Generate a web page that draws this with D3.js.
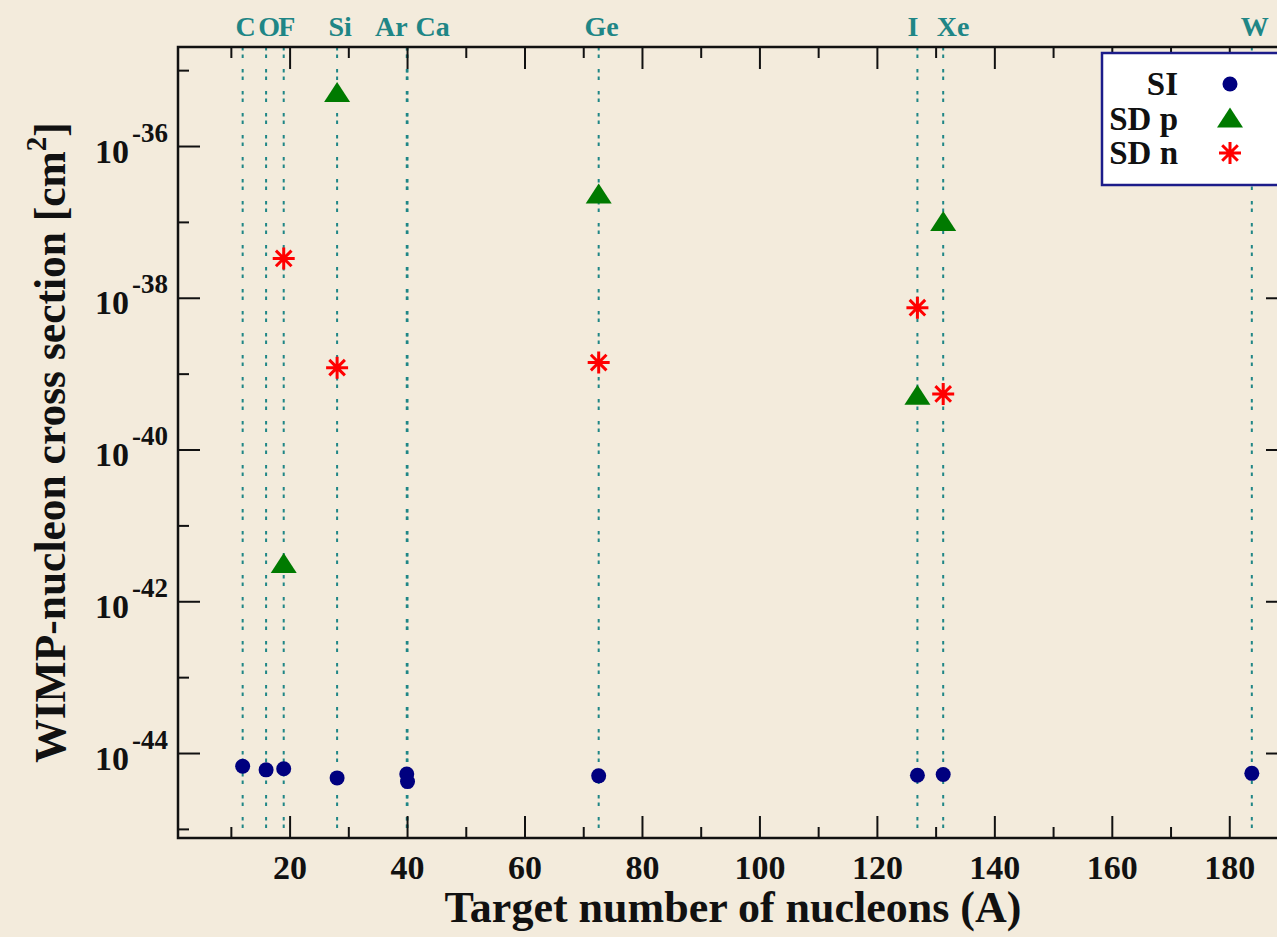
<!DOCTYPE html>
<html>
<head>
<meta charset="utf-8">
<script src="https://cdn.jsdelivr.net/npm/d3@7"></script>
<style>
  html, body { margin: 0; padding: 0; background: #f3ebdc; }
  svg { display: block; }
  text { font-family: "Liberation Serif", "Times New Roman", serif; font-weight: bold; fill: #111; }
</style>
</head>
<body>
<div id="chart"></div>
<script>
// target nuclei and their mass numbers
const elementNames = ["C", "O", "F", "Si", "Ar", "Ca", "Ge", "I", "Xe", "W"];
const elementMass = [12.01, 16.00, 19.00, 28.09, 39.95, 40.08, 72.63, 126.90, 131.29, 183.84];

// spin independent cross sections, one per element above
const siCross = [6.7e-45, 6.0e-45, 6.2e-45, 4.7e-45, 5.3e-45, 4.2e-45, 5.0e-45, 5.1e-45, 5.2e-45, 5.4e-45];

// spin dependent cross sections (proton / neutron)
const sdTargets = ["F", "Si", "Ge", "I", "Xe"];
const sdpCross = [3.1e-42, 5.0e-36, 2.3e-37, 5.1e-40, 1.0e-37];
const sdnCross = [3.3e-38, 1.2e-39, 1.4e-39, 7.4e-39, 5.4e-40];

// ticks
const xMajorTicks = [20, 40, 60, 80, 100, 120, 140, 160, 180];
const xMinorTicks = [10, 30, 50, 70, 90, 110, 130, 150, 170];
const yMajorTicks = [1e-44, 1e-42, 1e-40, 1e-38, 1e-36];
const yMinorTicks = [1e-45, 1e-43, 1e-41, 1e-39, 1e-37, 1e-35];

const legendLabels = ["SI", "SD p", "SD n"];

/* canvas */
const width = 1277, height = 937;
const plotLeft = 178, plotRight = 1288, plotTop = 47, plotBottom = 838;

const svg = d3.select("#chart").append("svg")
  .attr("width", width)
  .attr("height", height);

svg.append("rect")
  .attr("width", width).attr("height", height)
  .attr("fill", "#f3ebdc");

const x = d3.scaleLinear().domain([1, 190]).range([plotLeft, plotRight]);
const y = d3.scaleLog().domain([Math.pow(10, -45.12), Math.pow(10, -34.695)]).range([plotBottom, plotTop]);

const teal = "#1f8686";
const majorLen = 22, minorLen = 11;

/* element guide lines */
const labelPlace = {
  Ar: { anchor: "end", dx: 1 },
  Ca: { anchor: "start", dx: 8 },
  I: { anchor: "end", dx: 1 },
  Xe: { anchor: "middle", dx: 10 }
};

svg.append("g").selectAll("line")
  .data(elementMass)
  .join("line")
    .attr("x1", d => x(d)).attr("x2", d => x(d))
    .attr("y1", plotTop).attr("y2", plotBottom)
    .attr("stroke", teal)
    .attr("stroke-width", 2)
    .attr("stroke-dasharray", "3.5,4,3.5,11");

svg.append("g").selectAll("text")
  .data(elementNames)
  .join("text")
    .attr("x", (d, i) => x(elementMass[i]) + (labelPlace[d] ? labelPlace[d].dx : 3))
    .attr("y", 36)
    .attr("text-anchor", d => labelPlace[d] ? labelPlace[d].anchor : "middle")
    .style("font-size", "28px")
    .style("fill", teal)
    .text(d => d);

/* axes: ticks point inwards on all four sides */
function styleAxis(g) {
  g.select(".domain").remove();
  g.selectAll(".tick line").attr("stroke", "#111").attr("stroke-width", 2);
}

svg.append("g")
  .attr("transform", "translate(0," + plotBottom + ")")
  .call(d3.axisBottom(x).tickValues(xMajorTicks).tickSizeInner(-majorLen).tickSizeOuter(0).tickPadding(17))
  .call(styleAxis)
  .call(g => g.selectAll("text").style("font-size", "34px").attr("fill", "#111")
    .style("font-family", "'Liberation Serif', serif").style("font-weight", "bold"));

svg.append("g")
  .attr("transform", "translate(0," + plotBottom + ")")
  .call(d3.axisBottom(x).tickValues(xMinorTicks).tickSizeInner(-minorLen).tickSizeOuter(0).tickFormat(""))
  .call(styleAxis);

svg.append("g")
  .attr("transform", "translate(0," + plotTop + ")")
  .call(d3.axisTop(x).tickValues(xMajorTicks).tickSizeInner(-majorLen).tickSizeOuter(0).tickFormat(""))
  .call(styleAxis);

svg.append("g")
  .attr("transform", "translate(0," + plotTop + ")")
  .call(d3.axisTop(x).tickValues(xMinorTicks).tickSizeInner(-minorLen).tickSizeOuter(0).tickFormat(""))
  .call(styleAxis);

svg.append("g")
  .attr("transform", "translate(" + plotLeft + ",0)")
  .call(d3.axisLeft(y).tickValues(yMajorTicks).tickSizeInner(-majorLen).tickSizeOuter(0).tickPadding(10))
  .call(styleAxis)
  .call(g => g.selectAll(".tick text").each(function(d) {
    const t = d3.select(this);
    const exp = Math.round(Math.log10(d));
    t.text(null).attr("dy", null).attr("y", 16)
      .attr("fill", "#111")
      .style("font-family", "'Liberation Serif', serif").style("font-weight", "bold")
      .style("font-size", "34px");
    t.append("tspan").text("10");
    t.append("tspan").attr("dx", 3).attr("dy", -21).style("font-size", "27px").text("-" + Math.abs(exp));
  }));

svg.append("g")
  .attr("transform", "translate(" + plotLeft + ",0)")
  .call(d3.axisLeft(y).tickValues(yMinorTicks).tickSizeInner(-minorLen).tickSizeOuter(0).tickFormat(""))
  .call(styleAxis);

svg.append("g")
  .attr("transform", "translate(" + plotRight + ",0)")
  .call(d3.axisRight(y).tickValues(yMajorTicks).tickSizeInner(-majorLen).tickSizeOuter(0).tickFormat(""))
  .call(styleAxis);

svg.append("g")
  .attr("transform", "translate(" + plotRight + ",0)")
  .call(d3.axisRight(y).tickValues(yMinorTicks).tickSizeInner(-minorLen).tickSizeOuter(0).tickFormat(""))
  .call(styleAxis);

// frame
svg.append("rect")
  .attr("x", plotLeft).attr("y", plotTop)
  .attr("width", plotRight - plotLeft).attr("height", plotBottom - plotTop)
  .attr("fill", "none")
  .attr("stroke", "#111")
  .attr("stroke-width", 2.5);

/* markers */
const triangle = "M0,-11L13,9L-13,9Z";
const asterisk = "M0,-11V11M-11,0H11M-7.8,-7.8L7.8,7.8M-7.8,7.8L7.8,-7.8";

function massOf(name) {
  return elementMass[elementNames.indexOf(name)];
}

svg.append("g").selectAll("circle")
  .data(siCross)
  .join("circle")
    .attr("cx", (d, i) => x(elementMass[i]))
    .attr("cy", d => y(d))
    .attr("r", 7.5)
    .attr("fill", "#00007f");

svg.append("g").selectAll("path")
  .data(sdpCross)
  .join("path")
    .attr("transform", (d, i) => "translate(" + x(massOf(sdTargets[i])) + "," + y(d) + ")")
    .attr("d", triangle)
    .attr("fill", "#007a00");

svg.append("g").selectAll("path")
  .data(sdnCross)
  .join("path")
    .attr("transform", (d, i) => "translate(" + x(massOf(sdTargets[i])) + "," + y(d) + ")")
    .attr("d", asterisk)
    .attr("fill", "none")
    .attr("stroke", "#ff0000")
    .attr("stroke-width", 3);

/* legend */
const legend = svg.append("g").attr("transform", "translate(1102,53)");
legend.append("rect")
  .attr("width", 190).attr("height", 132)
  .attr("fill", "#ffffff")
  .attr("stroke", "#1c1c8a")
  .attr("stroke-width", 2.5);

const rows = legend.selectAll("g.row")
  .data(legendLabels)
  .join("g")
    .attr("class", "row")
    .attr("transform", (d, i) => "translate(0," + (31 + i * 34.5) + ")");

rows.append("text")
  .attr("x", 76).attr("y", 11)
  .attr("text-anchor", "end")
  .style("font-size", "33px")
  .text(d => d);

rows.filter((d, i) => i === 0).append("circle")
  .attr("cx", 128).attr("r", 7.5).attr("fill", "#00007f");
rows.filter((d, i) => i === 1).append("path")
  .attr("transform", "translate(128,0)").attr("d", triangle).attr("fill", "#007a00");
rows.filter((d, i) => i === 2).append("path")
  .attr("transform", "translate(128,0)").attr("d", asterisk)
  .attr("fill", "none").attr("stroke", "#ff0000").attr("stroke-width", 3);

/* axis titles */
svg.append("text")
  .attr("x", (plotLeft + plotRight) / 2)
  .attr("y", 922)
  .attr("text-anchor", "middle")
  .style("font-size", "44px")
  .text("Target number of nucleons (A)");

const yTitle = svg.append("text")
  .attr("transform", "translate(65," + (plotTop + plotBottom) / 2 + ") rotate(-90)")
  .attr("text-anchor", "middle")
  .style("font-size", "43.5px");
yTitle.append("tspan").text("WIMP-nucleon cross section [cm");
yTitle.append("tspan").attr("dy", -19).style("font-size", "29px").text("2");
yTitle.append("tspan").attr("dy", 19).text("]");
</script>
</body>
</html>
